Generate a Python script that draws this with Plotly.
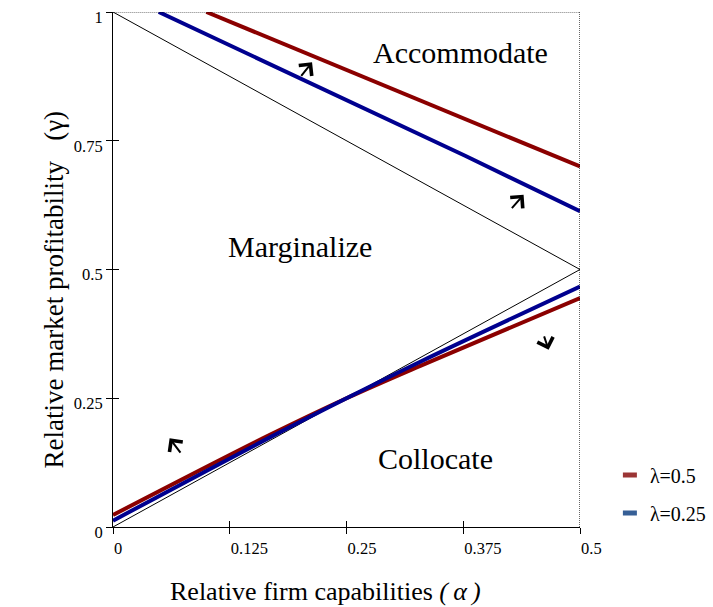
import plotly.graph_objects as go

# Boundary lines of the strategy regions (alpha on x, gamma on y)
alpha_bound = [0.0, 0.5]
gamma_upper_bound = [1.0, 0.5]
gamma_lower_bound = [0.0, 0.5]

# Upper thresholds for each lambda
alpha_up_l05 = [0.1, 0.25, 0.377, 0.5]
gamma_up_l05 = [1.0, 0.887, 0.791, 0.700]
alpha_up_l025 = [0.049, 0.25, 0.377, 0.5]
gamma_up_l025 = [1.0, 0.828, 0.721, 0.613]

# Lower thresholds for each lambda
alpha_lo = [0.0, 0.168, 0.25, 0.329, 0.5]
gamma_lo_l05 = [0.0233, 0.179, 0.25, 0.313, 0.4445]
gamma_lo_l025 = [0.0123, 0.174, 0.25, 0.321, 0.467]

# Axis ticks
x_ticks = [0, 0.125, 0.25, 0.375, 0.5]
x_tick_text = ["0", "0.125", "0.25", "0.375", "0.5"]
y_ticks = [0, 0.25, 0.5, 0.75, 1]
y_tick_text = ["0", "0.25", "0.5", "0.75", "1"]

legend_names = ["\u03bb=0.5", "\u03bb=0.25"]
line_colors = ["#8b0000", "#00008f"]
legend_colors = ["#9b3535", "#365f96"]

FONT = "Liberation Serif, Times New Roman, serif"

fig = go.Figure()

# thin black region boundaries
for yb in (gamma_upper_bound, gamma_lower_bound):
    fig.add_trace(go.Scatter(x=alpha_bound, y=yb, mode="lines",
                             line=dict(color="black", width=1),
                             showlegend=False, hoverinfo="skip", cliponaxis=False))

# threshold curves: upper ones straight, lower ones gently bent
curves = [
    (alpha_up_l05, gamma_up_l05, 0, "linear"),
    (alpha_up_l025, gamma_up_l025, 1, "linear"),
    (alpha_lo, gamma_lo_l05, 0, "spline"),
    (alpha_lo, gamma_lo_l025, 1, "spline"),
]
for xs, ys, k, shp in curves:
    fig.add_trace(go.Scatter(x=xs, y=ys, mode="lines",
                             line=dict(color=line_colors[k], width=4, shape=shp),
                             showlegend=False, cliponaxis=False))

# legend entries
for k, name in enumerate(legend_names):
    fig.add_trace(go.Scatter(x=[None], y=[None], mode="markers", name=name,
                             legendgroup=name,
                             marker=dict(symbol="line-ew", size=10,
                                         line=dict(color=legend_colors[k], width=5))))

# dotted frame at top and right
fig.add_shape(type="line", x0=-0.005, x1=0.5, y0=1, y1=1, xref="x", yref="y",
              line=dict(color="black", width=1.2, dash="1px,1px"))
fig.add_shape(type="line", x0=0.5, x1=0.5, y0=0, y1=1, xref="x", yref="y",
              line=dict(color="black", width=1.2, dash="1px,1px"))

# region labels
regions = [("Accommodate", 0.3718, 0.9213), ("Marginalize", 0.2005, 0.5442),
           ("Collocate", 0.3451, 0.1322)]
for txt, xa, ya in regions:
    fig.add_annotation(x=xa, y=ya, xref="x", yref="y", text=txt, showarrow=False,
                       font=dict(family=FONT, size=30, color="black"))

# direction arrows
arrows = [(0.2131, 0.9024, -12, 15), (0.4396, 0.6453, -13, 15),
          (0.0606, 0.1724, 12, 16), (0.4664, 0.3440, -5, -15)]
for xa, ya, dx, dy in arrows:
    fig.add_annotation(x=xa, y=ya, xref="x", yref="y", ax=dx, ay=dy, text="",
                       showarrow=True, arrowhead=4, arrowsize=1.6, arrowwidth=2,
                       arrowcolor="black")

# axis titles
fig.add_annotation(xref="paper", yref="paper", x=0.455, y=-0.157, showarrow=False,
                   text="Relative firm capabilities <i>(\u2009\u03b1\u2009)</i>",
                   font=dict(family=FONT, size=26, color="black"))
fig.add_annotation(xref="paper", yref="paper", x=-0.163, y=0.461, showarrow=False,
                   textangle=-90,
                   text="Relative market profitability\u00a0\u00a0\u00a0(\u03b3)",
                   font=dict(family=FONT, size=27, color="black"))

axis_font = dict(family=FONT, size=16.5, color="black")
fig.update_layout(
    width=713, height=607,
    font=dict(family=FONT, color="black"),
    margin=dict(l=113, r=133, t=12, b=80, autoexpand=False),
    paper_bgcolor="white", plot_bgcolor="white",
    showlegend=True,
    legend=dict(x=1.064, y=0.064, xanchor="left", yanchor="middle",
                font=dict(family=FONT, size=20, color="black"),
                tracegroupgap=9, bgcolor="rgba(0,0,0,0)"),
    xaxis=dict(range=[0, 0.5], tickvals=x_ticks, ticktext=x_tick_text,
               ticks="outside", ticklen=6, tickcolor="black", tickwidth=1,
               ticklabelposition="outside right", ticklabelstandoff=6,
               tickfont=axis_font,
               showline=True, linecolor="black", linewidth=1,
               showgrid=False, zeroline=False, fixedrange=True),
    yaxis=dict(range=[0, 1], tickvals=y_ticks, ticktext=y_tick_text,
               ticks="outside", ticklen=6, tickcolor="black", tickwidth=1,
               ticklabelshift=5, ticklabelstandoff=0, tickfont=axis_font,
               showline=True, linecolor="black", linewidth=1,
               showgrid=False, zeroline=False, fixedrange=True),
    # companion axes so tick marks cross the axis lines
    xaxis2=dict(range=[0, 0.5], overlaying="x", anchor="y", side="bottom",
                tickvals=x_ticks, showticklabels=False, ticks="inside",
                ticklen=6, tickcolor="black", showline=False, showgrid=False,
                zeroline=False),
    yaxis2=dict(range=[0, 1], overlaying="y", anchor="x", side="left",
                tickvals=y_ticks, showticklabels=False, ticks="inside",
                ticklen=6, tickcolor="black", showline=False, showgrid=False,
                zeroline=False),
)
# invisible trace to activate the companion axes
fig.add_trace(go.Scatter(x=[None], y=[None], xaxis="x2", yaxis="y2",
                         showlegend=False, hoverinfo="skip"))

fig.write_html("out.html")
